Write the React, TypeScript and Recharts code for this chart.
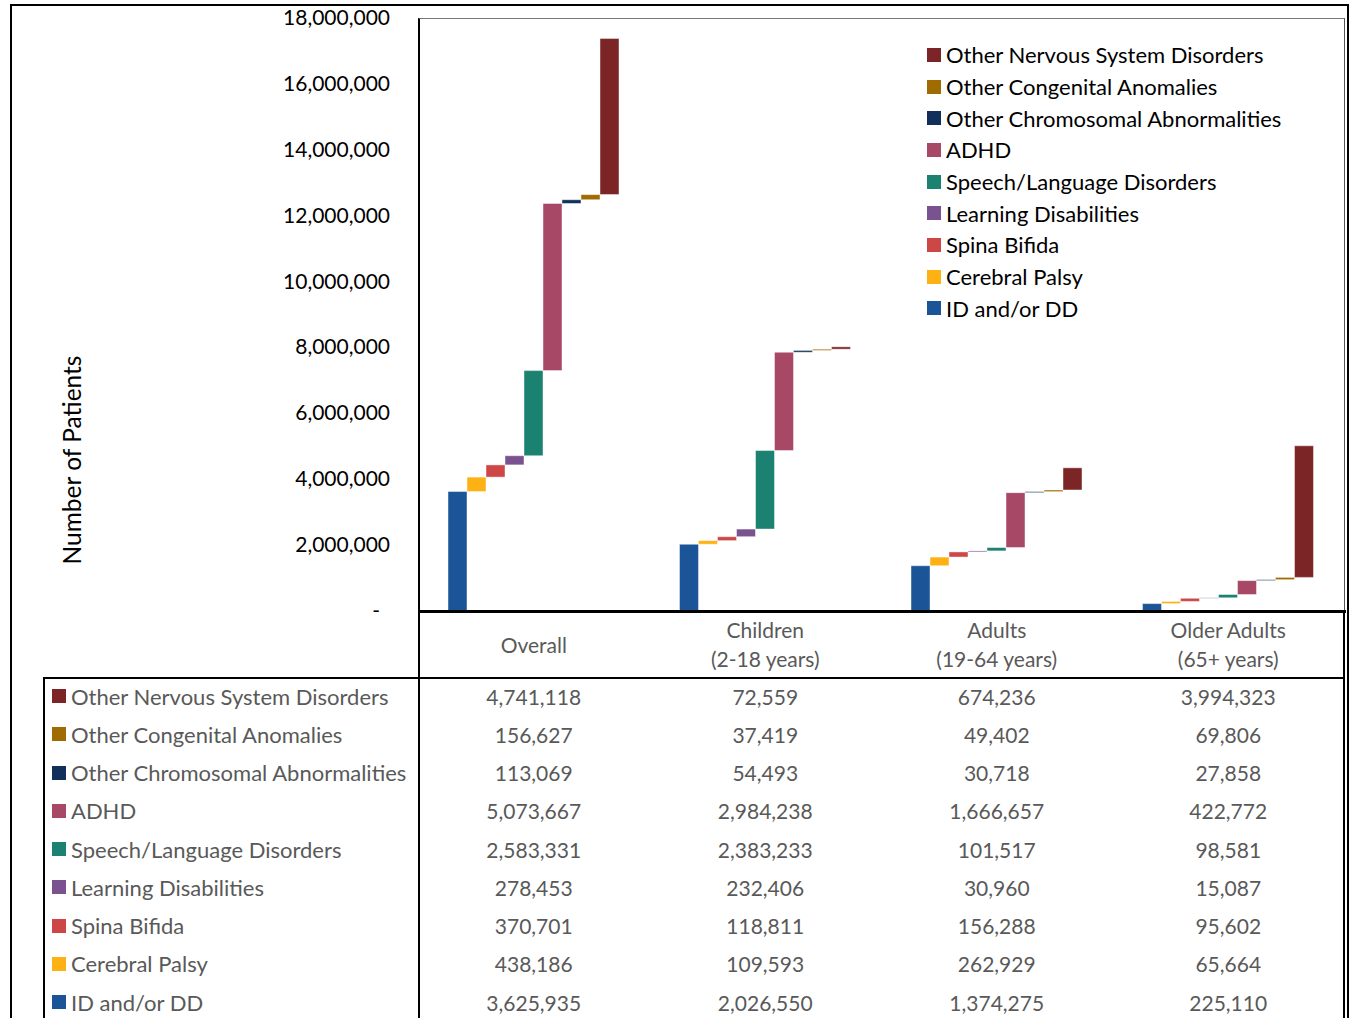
import { BarChart, Bar, XAxis, YAxis, Legend } from "recharts";

const groups = ["Overall", "Children\n(2-18 years)", "Adults\n(19-64 years)", "Older Adults\n(65+ years)"];

// bar order, left to right inside each group
const conditions = [
  "ID and/or DD",
  "Cerebral Palsy",
  "Spina Bifida",
  "Learning Disabilities",
  "Speech/Language Disorders",
  "ADHD",
  "Other Chromosomal Abnormalities",
  "Other Congenital Anomalies",
  "Other Nervous System Disorders",
];

const colors = ["#1b5598", "#fdb113", "#ce4747", "#7b5290", "#1b8170", "#a74866", "#112f58", "#a06b00", "#7c2527"];

const overall = [3625935, 438186, 370701, 278453, 2583331, 5073667, 113069, 156627, 4741118];
const children = [2026550, 109593, 118811, 232406, 2383233, 2984238, 54493, 37419, 72559];
const adults = [1374275, 262929, 156288, 30960, 101517, 1666657, 30718, 49402, 674236];
const olderAdults = [225110, 65664, 95602, 15087, 98581, 422772, 27858, 69806, 3994323];

const yTicks = [0, 2000000, 4000000, 6000000, 8000000, 10000000, 12000000, 14000000, 16000000, 18000000];

const series = [overall, children, adults, olderAdults];

// waterfall: each condition floats on the running total of the ones before it
const chartData = groups.map((name, g) => {
  const row: Record<string, unknown> = { name };
  let base = 0;
  series[g].forEach((v, i) => {
    row[`c${i}`] = [base, base + v];
    base += v;
  });
  return row;
});

const FONT = "Lato, 'Open Sans', sans-serif";
const GREY = "#595959";

const PLOT_LEFT = 418;
const PLOT_RIGHT = 1344;
const COL_W = (PLOT_RIGHT - PLOT_LEFT) / groups.length;
const ROW_H = 38.25;

const fmt = (v: number) => v.toLocaleString("en-US");

function YTick(props: any) {
  const { y, payload } = props;
  const zero = payload.value === 0;
  return (
    <text
      x={zero ? 380 : 390}
      y={y}
      dy={7}
      textAnchor="end"
      fontSize={21}
      fontFamily={FONT}
      fill="#000"
    >
      {zero ? "-" : fmt(payload.value)}
    </text>
  );
}

function LegendList(props: any) {
  const payload: any[] = props.payload || [];
  // top to bottom: last series first, like the stacking order
  const items = [...conditions]
    .reverse()
    .map((c) => payload.find((p) => p.value === c))
    .filter(Boolean);
  return (
    <div style={{ fontFamily: FONT, fontSize: 22, color: "#000" }}>
      {items.map((it: any) => (
        <div key={it.value} style={{ display: "flex", alignItems: "center", height: 31.7 }}>
          <span style={{ width: 14, height: 14, background: it.color, marginRight: 5, flexShrink: 0 }} />
          <span style={{ whiteSpace: "nowrap" }}>{it.value}</span>
        </div>
      ))}
    </div>
  );
}

const rowsTopDown = conditions.map((_, i) => conditions.length - 1 - i);

export default function App() {
  return (
    <div style={{ position: "absolute", left: 0, top: 0, width: 1351, height: 1018, overflow: "hidden", background: "#fff", fontFamily: FONT }}>
      {/* outer frame */}
      <div style={{ position: "absolute", left: 10, top: 4, width: 1339, height: 1100, border: "2px solid #000", boxSizing: "border-box" }} />

      <div style={{ position: "absolute", left: 0, top: 0 }}>
        <BarChart
          width={PLOT_RIGHT + 7}
          height={640}
          data={chartData}
          margin={{ top: 18, right: 7, bottom: 29, left: 0 }}
          barGap={0}
          barCategoryGap={30}
        >
          <XAxis dataKey="name" hide />
          <YAxis
            width={PLOT_LEFT}
            domain={[0, 18000000]}
            ticks={yTicks}
            interval={0}
            axisLine={false}
            tickLine={false}
            tick={<YTick />}
            label={{
              content: () => (
                <text
                  x={0}
                  y={0}
                  transform="translate(81 460) rotate(-90)"
                  textAnchor="middle"
                  fontSize={24.5}
                  fontFamily={FONT}
                  fill="#000"
                >
                  Number of Patients
                </text>
              ),
            }}
          />
          {conditions.map((c, i) => (
            <Bar
              key={c}
              dataKey={`c${i}`}
              name={c}
              fill={colors[i]}
              stroke="#ffffff"
              strokeOpacity={0.45}
              strokeWidth={1}
              isAnimationActive={false}
            />
          ))}
          <Legend
            layout="vertical"
            align="center"
            verticalAlign="middle"
            content={<LegendList />}
            wrapperStyle={{ left: 927, top: 39, width: 400, height: 290 }}
          />
        </BarChart>
      </div>

      {/* plot frame */}
      <div style={{ position: "absolute", left: PLOT_LEFT, top: 18, width: PLOT_RIGHT - PLOT_LEFT + 1, height: 594, borderLeft: "2px solid #000", borderTop: "1px solid #777", borderRight: "1px solid #555", boxSizing: "border-box" }} />
      <div style={{ position: "absolute", left: PLOT_LEFT, top: 610, width: PLOT_RIGHT - PLOT_LEFT + 2, height: 3, background: "#000" }} />

      {/* category header row */}
      <div style={{ position: "absolute", left: PLOT_LEFT, top: 612, width: PLOT_RIGHT - PLOT_LEFT + 1, height: 67, borderLeft: "2px solid #000", borderRight: "2px solid #000", boxSizing: "border-box" }} />
      {groups.map((g, i) => (
        <div
          key={g}
          style={{
            position: "absolute",
            left: PLOT_LEFT + i * COL_W,
            top: 611,
            width: COL_W,
            height: 66,
            display: "flex",
            alignItems: "center",
            justifyContent: "center",
            textAlign: "center",
            whiteSpace: "pre-line",
            fontSize: 21,
            lineHeight: "29px",
            color: GREY,
          }}
        >
          {g}
        </div>
      ))}

      {/* data table */}
      <div style={{ position: "absolute", left: 43, top: 677, width: PLOT_RIGHT - 43 + 1, height: 2, background: "#000" }} />
      <div style={{ position: "absolute", left: 43, top: 677, width: PLOT_LEFT - 43 + 2, height: 400, borderLeft: "2px solid #000", borderRight: "2px solid #000", boxSizing: "border-box" }} />
      <div style={{ position: "absolute", left: PLOT_RIGHT - 1, top: 677, width: 2, height: 400, background: "#000" }} />
      {rowsTopDown.map((ci, r) => (
        <div key={conditions[ci]}>
          <div
            style={{
              position: "absolute",
              left: 52,
              top: 677 + r * ROW_H,
              height: ROW_H,
              display: "flex",
              alignItems: "center",
              fontSize: 22,
              color: GREY,
              whiteSpace: "nowrap",
            }}
          >
            <span style={{ width: 14, height: 14, background: colors[ci], marginRight: 5 }} />
            {conditions[ci]}
          </div>
          {series.map((s, g) => (
            <div
              key={g}
              style={{
                position: "absolute",
                left: PLOT_LEFT + g * COL_W,
                top: 677 + r * ROW_H,
                width: COL_W,
                height: ROW_H,
                display: "flex",
                alignItems: "center",
                justifyContent: "center",
                fontSize: 21,
                color: GREY,
              }}
            >
              {fmt(s[ci])}
            </div>
          ))}
        </div>
      ))}
    </div>
  );
}
